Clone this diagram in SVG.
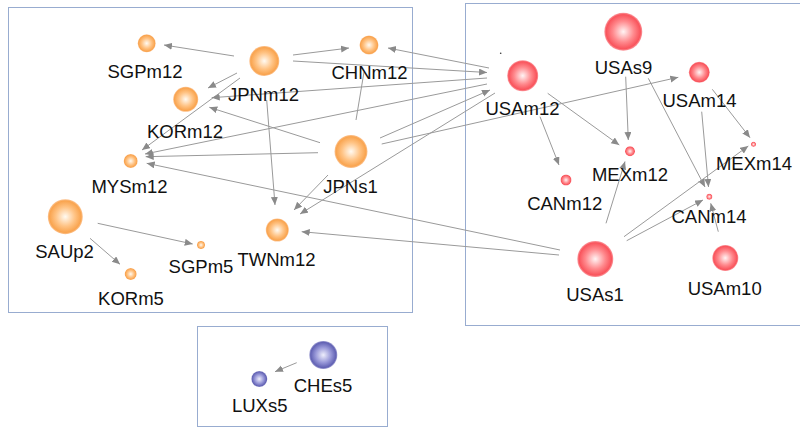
<svg xmlns="http://www.w3.org/2000/svg" width="800" height="427" viewBox="0 0 800 427">
<defs>
<radialGradient id="gO" cx="50%" cy="50%" r="50%">
<stop offset="0" stop-color="#fffaf2"/><stop offset="0.55" stop-color="#ffc384"/><stop offset="0.9" stop-color="#f9a44f"/><stop offset="1" stop-color="#fcc493"/>
</radialGradient>
<radialGradient id="gR" cx="50%" cy="50%" r="50%">
<stop offset="0" stop-color="#fff4f4"/><stop offset="0.55" stop-color="#ff8a8e"/><stop offset="0.9" stop-color="#f9545c"/><stop offset="1" stop-color="#fb9ba0"/>
</radialGradient>
<radialGradient id="gB" cx="50%" cy="50%" r="50%">
<stop offset="0" stop-color="#eeeefc"/><stop offset="0.55" stop-color="#9898d8"/><stop offset="0.9" stop-color="#6262b4"/><stop offset="1" stop-color="#9e9ed2"/>
</radialGradient>
<marker id="ah" markerUnits="userSpaceOnUse" markerWidth="9" markerHeight="8" refX="8" refY="3.5" orient="auto">
<path d="M0,0 L8,3.5 L0,7 z" fill="#8a8a8a"/>
</marker>
</defs>
<style>
.box{fill:none;stroke:#98acd0;stroke-width:1}
.e{stroke:#9a9a9a;stroke-width:1;fill:none;marker-end:url(#ah)}
.n{stroke:none}
text{font-family:"Liberation Sans",Arial,sans-serif;font-size:18.5px;fill:#111;text-anchor:middle}
</style>
<rect width="800" height="427" fill="#fff"/>
<g id="groups">
<rect class="box" x="8.5" y="7.5" width="404" height="305"/>
<rect class="box" x="465.5" y="3.5" width="340" height="322"/>
<rect class="box" x="197.5" y="326.5" width="190" height="100"/>
</g>
<g id="connectors">
<line class="e" x1="234" y1="56" x2="164" y2="45"/>
<line class="e" x1="293" y1="55" x2="349" y2="48"/>
<line class="e" x1="293" y1="61" x2="487" y2="72.5"/>
<line class="e" x1="237" y1="73" x2="208" y2="88"/>
<line class="e" x1="240" y1="78" x2="142" y2="150"/>
<line class="e" x1="266.7" y1="100" x2="275" y2="205"/>
<line class="e" x1="489" y1="68" x2="388" y2="48"/>
<line class="e" x1="487" y1="78" x2="211.7" y2="97.7"/>
<line class="e" x1="320" y1="142.7" x2="209.3" y2="107.3"/>
<line class="e" x1="487" y1="84" x2="145" y2="154"/>
<line class="e" x1="318" y1="152.7" x2="145.7" y2="156.7"/>
<line x1="356" y1="120" x2="364" y2="72" stroke="#9a9a9a" stroke-width="1"/>
<line class="e" x1="380" y1="138" x2="490" y2="90"/>
<line class="e" x1="381.7" y1="144" x2="678.3" y2="77.3"/>
<line class="e" x1="495" y1="93" x2="300" y2="214"/>
<line class="e" x1="328" y1="175" x2="294" y2="210"/>
<line class="e" x1="560" y1="250" x2="146.7" y2="163.3"/>
<line class="e" x1="559" y1="255" x2="301.7" y2="231.7"/>
<line class="e" x1="547.7" y1="93.3" x2="619.3" y2="145"/>
<line class="e" x1="540" y1="116.7" x2="559" y2="165"/>
<line class="e" x1="625.7" y1="76.7" x2="628.3" y2="140"/>
<line class="e" x1="648.3" y1="78.3" x2="705" y2="187"/>
<line class="e" x1="712.3" y1="89.3" x2="750" y2="137.7"/>
<line class="e" x1="701.7" y1="111.7" x2="708.5" y2="187"/>
<line class="e" x1="606" y1="223.3" x2="625" y2="161.5"/>
<line class="e" x1="624" y1="236.7" x2="748.3" y2="146"/>
<line class="e" x1="626.7" y1="240.7" x2="703" y2="200"/>
<line class="e" x1="718.3" y1="231.7" x2="710.7" y2="203.3"/>
<line class="e" x1="97.7" y1="223.3" x2="192.7" y2="244"/>
<line class="e" x1="90" y1="238.3" x2="120" y2="264.3"/>
<line class="e" x1="296.7" y1="362.7" x2="275" y2="371.7"/>
</g>
<g id="SGPm12"><circle class="n" cx="146.7" cy="43.3" r="9" fill="url(#gO)"/><text x="145" y="78">SGPm12</text></g>
<g id="JPNm12"><circle class="n" cx="264.3" cy="61" r="15" fill="url(#gO)"/><text x="263.5" y="100.5">JPNm12</text></g>
<g id="CHNm12"><circle class="n" cx="369" cy="45" r="9.5" fill="url(#gO)"/><text x="369.5" y="79">CHNm12</text></g>
<g id="KORm12"><circle class="n" cx="185.7" cy="99.3" r="12.5" fill="url(#gO)"/><text x="185" y="137.5">KORm12</text></g>
<g id="MYSm12"><circle class="n" cx="130.7" cy="161" r="7" fill="url(#gO)"/><text x="129.5" y="192.5">MYSm12</text></g>
<g id="JPNs1"><circle class="n" cx="351" cy="151.5" r="16.5" fill="url(#gO)"/><text x="350.5" y="193">JPNs1</text></g>
<g id="SAUp2"><circle class="n" cx="65.3" cy="216.7" r="17.5" fill="url(#gO)"/><text x="64.6" y="258">SAUp2</text></g>
<g id="SGPm5"><circle class="n" cx="201" cy="245" r="4" fill="url(#gO)"/><text x="201" y="273">SGPm5</text></g>
<g id="TWNm12"><circle class="n" cx="277.3" cy="230" r="11.5" fill="url(#gO)"/><text x="276.5" y="266">TWNm12</text></g>
<g id="KORm5"><circle class="n" cx="130.7" cy="274" r="6" fill="url(#gO)"/><text x="131" y="305">KORm5</text></g>
<g id="USAm12"><circle class="n" cx="522.7" cy="75.7" r="15.5" fill="url(#gR)"/><text x="522.5" y="115">USAm12</text><circle cx="500.7" cy="53.3" r="0.8" fill="#333"/></g>
<g id="USAs9"><circle class="n" cx="623.3" cy="31.7" r="19" fill="url(#gR)"/><text x="623.5" y="74">USAs9</text></g>
<g id="USAm14"><circle class="n" cx="699.3" cy="72.3" r="10.5" fill="url(#gR)"/><text x="699.5" y="107">USAm14</text></g>
<g id="MEXm12"><circle class="n" cx="630" cy="151.3" r="5" fill="url(#gR)"/><text x="630" y="180.5">MEXm12</text></g>
<g id="MEXm14"><circle class="n" cx="753.5" cy="144.3" r="2.5" fill="url(#gR)"/><text x="754" y="170">MEXm14</text></g>
<g id="CANm12"><circle class="n" cx="566" cy="180" r="5.5" fill="url(#gR)"/><text x="564.7" y="210">CANm12</text></g>
<g id="CANm14"><circle class="n" cx="709.3" cy="196.7" r="3" fill="url(#gR)"/><text x="709" y="223">CANm14</text></g>
<g id="USAs1"><circle class="n" cx="595.3" cy="259" r="18" fill="url(#gR)"/><text x="595" y="300.5">USAs1</text></g>
<g id="USAm10"><circle class="n" cx="725.3" cy="258" r="13" fill="url(#gR)"/><text x="724.7" y="295">USAm10</text></g>
<g id="CHEs5"><circle class="n" cx="323.3" cy="355" r="14" fill="url(#gB)"/><text x="323" y="391.5">CHEs5</text></g>
<g id="LUXs5"><circle class="n" cx="259.3" cy="379" r="8" fill="url(#gB)"/><text x="259.7" y="411.5">LUXs5</text></g>
</svg>
